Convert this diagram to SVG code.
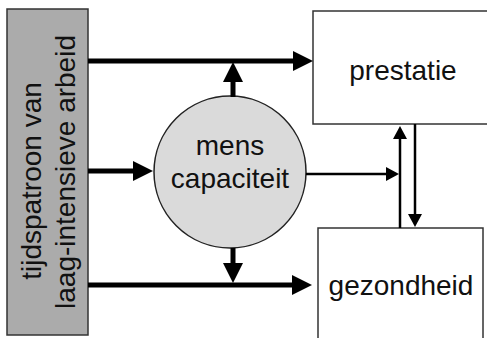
<svg xmlns="http://www.w3.org/2000/svg" width="487" height="338" viewBox="0 0 487 338">
<defs>
<style>
.lbl{font-family:"Liberation Sans",Arial,sans-serif;font-size:28px;fill:#111;text-anchor:middle}
.box{fill:#fff;stroke:#333;stroke-width:1.5}
.thick{stroke:#000;stroke-width:5;fill:none}
.thin{stroke:#000;stroke-width:2.5;fill:none}
</style>
<marker id="hb" viewBox="0 0 20 20" refX="0" refY="10" markerWidth="20" markerHeight="20" markerUnits="userSpaceOnUse" orient="auto">
<path d="M0,0 L20,10 L0,20 z" fill="#000"/>
</marker>
<marker id="hs" viewBox="0 0 13 14" refX="0" refY="7" markerWidth="13" markerHeight="14" markerUnits="userSpaceOnUse" orient="auto">
<path d="M0,0 L13,7 L0,14 z" fill="#000"/>
</marker>
</defs>
<rect width="487" height="338" fill="#fff"/>
<g id="tijdspatroon">
<rect x="7" y="9" width="81" height="326" fill="#ababab" stroke="#333" stroke-width="1.5"/>
<text class="lbl" transform="translate(41,181) rotate(-90)">tijdspatroon van</text>
<text class="lbl" transform="translate(75,172) rotate(-90)">laag-intensieve arbeid</text>
</g>
<g id="mens">
<circle cx="230" cy="172" r="76" fill="#dadada" stroke="#222" stroke-width="1.5"/>
<text class="lbl" x="230" y="155">mens</text>
<text class="lbl" x="230" y="188">capaciteit</text>
</g>
<g id="prestatie">
<rect class="box" x="313" y="11" width="180" height="113"/>
<text class="lbl" x="403" y="80">prestatie</text>
</g>
<g id="gezondheid">
<rect class="box" x="318" y="228" width="165" height="120"/>
<text class="lbl" x="401" y="295">gezondheid</text>
</g>
<g id="connectors">
<path class="thick" d="M88,61 H293" marker-end="url(#hb)"/>
<path class="thick" d="M88,171 H133" marker-end="url(#hb)"/>
<path class="thick" d="M88,285 H292" marker-end="url(#hb)"/>
<path class="thick" d="M233,97 V82" marker-end="url(#hb)"/>
<path class="thick" d="M233,248 V263" marker-end="url(#hb)"/>
<path class="thin" d="M306,174 H386" marker-end="url(#hs)"/>
<path class="thin" d="M400,228 V139" marker-end="url(#hs)"/>
<path class="thin" d="M415,124 V214" marker-end="url(#hs)"/>
</g>
</svg>
